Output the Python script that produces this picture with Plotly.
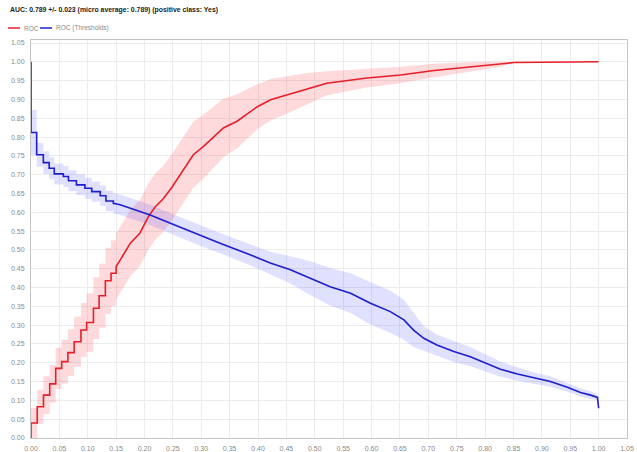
import numpy as np
import plotly.graph_objects as go

# ROC curve (false positive rate vs true positive rate), averaged over folds
roc_fpr = [0, 0, 0.011, 0.011, 0.022, 0.022, 0.033, 0.033, 0.0435, 0.0435,
           0.054, 0.054, 0.065, 0.065, 0.076, 0.076, 0.088, 0.088, 0.098, 0.098,
           0.110, 0.110, 0.120, 0.120, 0.131, 0.131, 0.141, 0.141, 0.150, 0.150,
           0.157, 0.175, 0.192, 0.207, 0.219, 0.233, 0.248, 0.269, 0.286, 0.304,
           0.327, 0.339, 0.363, 0.380, 0.398, 0.422, 0.451, 0.486, 0.521, 0.592,
           0.651, 0.710, 0.768, 0.827, 0.851, 0.900, 1.000]
roc_tpr = [0, 0.040, 0.040, 0.083, 0.083, 0.114, 0.114, 0.144, 0.144, 0.185,
           0.185, 0.203, 0.203, 0.227, 0.227, 0.256, 0.256, 0.287, 0.287, 0.307,
           0.307, 0.345, 0.345, 0.378, 0.378, 0.418, 0.418, 0.438, 0.438, 0.456,
           0.473, 0.518, 0.545, 0.589, 0.615, 0.636, 0.666, 0.713, 0.753, 0.775,
           0.806, 0.824, 0.842, 0.860, 0.880, 0.899, 0.912, 0.928, 0.943, 0.957,
           0.965, 0.977, 0.986, 0.994, 0.998, 0.999, 1.000]
roc_std = [0.035, 0.040, 0.040, 0.045, 0.045, 0.050, 0.050, 0.050, 0.050, 0.055,
           0.055, 0.058, 0.058, 0.062, 0.062, 0.066, 0.066, 0.072, 0.072, 0.078,
           0.078, 0.082, 0.082, 0.085, 0.085, 0.088, 0.088, 0.088, 0.088, 0.088,
           0.088, 0.088, 0.088, 0.088, 0.088, 0.088, 0.088, 0.088, 0.088, 0.085,
           0.080, 0.078, 0.072, 0.066, 0.060, 0.055, 0.050, 0.042, 0.032, 0.025,
           0.022, 0.018, 0.013, 0.008, 0.000, 0.000, 0.000]

# Threshold curve against false positive rate
thr_fpr = [0, 0, 0.010, 0.010, 0.0217, 0.0217, 0.032, 0.032, 0.041, 0.041,
           0.057, 0.057, 0.066, 0.066, 0.080, 0.080, 0.095, 0.095, 0.107, 0.107,
           0.122, 0.122, 0.132, 0.132, 0.145, 0.145, 0.157, 0.210, 0.250, 0.300,
           0.333, 0.386, 0.4215, 0.457, 0.492, 0.527, 0.563, 0.598, 0.633, 0.657,
           0.674, 0.692, 0.715, 0.745, 0.774, 0.810, 0.827, 0.857, 0.886, 0.915,
           0.945, 0.968, 0.986, 0.998, 1.000]
thr_val = [1.000, 0.812, 0.812, 0.753, 0.753, 0.732, 0.732, 0.717, 0.717, 0.702,
           0.702, 0.695, 0.695, 0.684, 0.684, 0.673, 0.673, 0.664, 0.664, 0.655,
           0.655, 0.644, 0.644, 0.630, 0.630, 0.624, 0.620, 0.593, 0.568, 0.537,
           0.518, 0.487, 0.465, 0.447, 0.425, 0.402, 0.385, 0.358, 0.336, 0.314,
           0.287, 0.265, 0.247, 0.230, 0.216, 0.194, 0.183, 0.170, 0.159, 0.150,
           0.135, 0.121, 0.114, 0.108, 0.079]
thr_std = [0.000, 0.060, 0.060, 0.032, 0.032, 0.030, 0.030, 0.029, 0.029, 0.028,
           0.028, 0.028, 0.028, 0.028, 0.028, 0.028, 0.028, 0.028, 0.028, 0.027,
           0.027, 0.027, 0.027, 0.027, 0.027, 0.027, 0.027, 0.027, 0.027, 0.027,
           0.027, 0.028, 0.030, 0.036, 0.045, 0.050, 0.053, 0.056, 0.056, 0.053,
           0.045, 0.032, 0.028, 0.028, 0.025, 0.022, 0.020, 0.018, 0.015, 0.014,
           0.012, 0.011, 0.010, 0.008, 0.000]

title_text = "AUC: 0.789 +/- 0.023 (micro average: 0.789) (positive class: Yes)"
legend_names = ["ROC", "ROC (Thresholds)"]

RED = "rgb(232,30,40)"
BLUE = "rgb(30,30,205)"
RED_BAND = "rgba(255,60,70,0.19)"
BLUE_BAND = "rgba(70,70,255,0.17)"

W, H = 637, 452
ML, MR, MT, MB = 31, 10, 40, 14
PW, PH = W - ML - MR, H - MT - MB


def band(x, y, s):
    x = np.asarray(x, float)
    y = np.asarray(y, float)
    s = np.asarray(s, float)
    hi = np.clip(y + s, 0, 1)
    lo = np.clip(y - s, 0, 1)
    return np.concatenate([x, x[::-1]]), np.concatenate([hi, lo[::-1]])


def px_to_paper(px, py):
    return (px - ML) / PW, (H - MB - py) / PH


fig = go.Figure()

bx, by = band(roc_fpr, roc_tpr, roc_std)
fig.add_trace(go.Scatter(x=bx, y=by, fill="toself", fillcolor=RED_BAND,
                         line=dict(width=0), hoverinfo="skip", showlegend=False))
bx, by = band(thr_fpr, thr_val, thr_std)
fig.add_trace(go.Scatter(x=bx, y=by, fill="toself", fillcolor=BLUE_BAND,
                         line=dict(width=0), hoverinfo="skip", showlegend=False))

fig.add_trace(go.Scatter(x=roc_fpr, y=roc_tpr, mode="lines", name=legend_names[0],
                         line=dict(color=RED, width=1.6), showlegend=False))
fig.add_trace(go.Scatter(x=thr_fpr, y=thr_val, mode="lines", name=legend_names[1],
                         line=dict(color=BLUE, width=1.6), showlegend=False))

ticks = [round(i * 0.05, 2) for i in range(22)]
tick_text = [f"{t:.2f}" for t in ticks]

axis_common = dict(
    showgrid=True, gridcolor="#ececec", gridwidth=1,
    showline=True, linecolor="#c4c4c4", linewidth=1, mirror=True,
    zeroline=False, ticks="", ticklabelstandoff=4, automargin=False,
    tickfont=dict(family="Liberation Sans, Arial, sans-serif", size=7, color="#8a8a8a"),
    tickvals=ticks, ticktext=tick_text, fixedrange=True,
)

fig.update_layout(
    width=W, height=H,
    margin=dict(l=ML, r=MR, t=MT, b=MB, autoexpand=False),
    paper_bgcolor="white", plot_bgcolor="white",
    xaxis=dict(range=[0, 1.05], **axis_common),
    yaxis=dict(range=[0, 1.058], **axis_common),
    font=dict(family="Liberation Sans, Arial, sans-serif"),
    showlegend=False,
)

# Title
tx, ty = px_to_paper(8, 10)
fig.add_annotation(x=tx, y=ty, xref="paper", yref="paper", text="<b>" + title_text + "</b>",
                   showarrow=False, xanchor="left", yanchor="middle",
                   font=dict(size=6.9, color="#222222"))

# Legend row drawn with shapes and labels
legend_y_px = 28
entries = [(8, RED, legend_names[0]), (40, BLUE, legend_names[1])]
for x0, col, name in entries:
    lx0, ly = px_to_paper(x0, legend_y_px)
    lx1, _ = px_to_paper(x0 + 12, legend_y_px)
    fig.add_shape(type="line", xref="paper", yref="paper",
                  x0=lx0, x1=lx1, y0=ly, y1=ly,
                  line=dict(color=col, width=1.5))
    ax, _ = px_to_paper(x0 + 14, legend_y_px)
    fig.add_annotation(xref="paper", yref="paper", x=ax, y=ly,
                       text=name, showarrow=False, xanchor="left", yanchor="middle",
                       font=dict(size=6.5, color="#8a8a8a"))

fig.write_html("out.html")
